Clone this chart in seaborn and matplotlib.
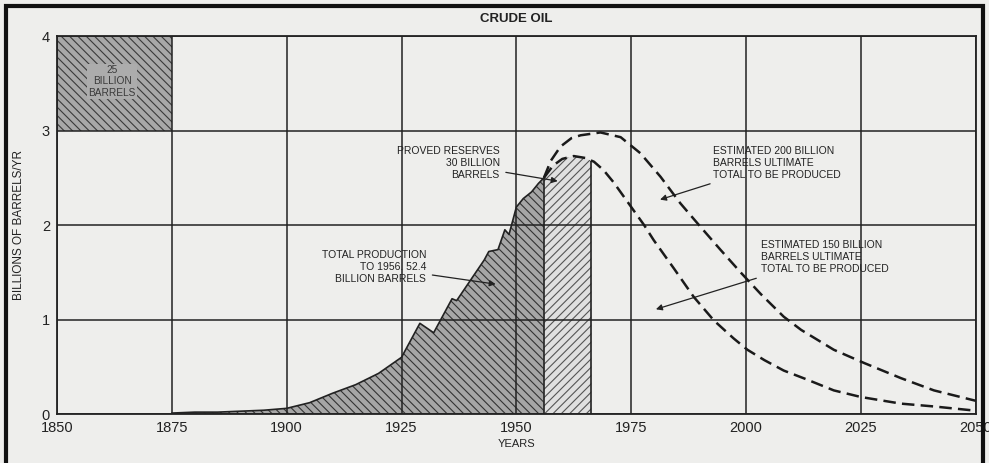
import numpy as np
import pandas as pd
import seaborn as sns
import matplotlib.pyplot as plt
from matplotlib.patches import Rectangle

# production to 1956 (billions of barrels / yr)
prod_years = [1875, 1880, 1885, 1890, 1895, 1900, 1905, 1910, 1915, 1920, 1925,
              1929, 1932, 1936, 1937, 1943, 1944, 1946, 1947.5, 1948.4, 1950,
              1951.5, 1953.3, 1954.8, 1956]
prod_vals = [0.01, 0.02, 0.02, 0.03, 0.04, 0.06, 0.12, 0.22, 0.31, 0.43, 0.60,
             0.96, 0.86, 1.22, 1.20, 1.63, 1.72, 1.74, 1.95, 1.90, 2.19,
             2.28, 2.35, 2.44, 2.50]

# proved reserves block
res_years = [1956, 1958, 1960, 1962.5, 1965, 1966.3]
res_vals = [2.50, 2.63, 2.70, 2.73, 2.71, 2.68]

# estimated future curves
est150_years = [1956, 1958, 1960, 1962.5, 1965, 1966.9, 1969, 1971.2, 1975.6,
                1977.8, 1979.9, 1984.3, 1988.6, 1993, 1997.3, 2000.3, 2004,
                2008.2, 2013, 2019.1, 2025, 2033.7, 2040.9, 2050]
est150_vals = [2.50, 2.63, 2.70, 2.73, 2.71, 2.67, 2.58, 2.45, 2.15,
               2.00, 1.84, 1.54, 1.24, 0.99, 0.80, 0.68, 0.57,
               0.46, 0.37, 0.25, 0.18, 0.11, 0.08, 0.035]
est200_years = [1956, 1957.5, 1959.6, 1962, 1964, 1968.3, 1972.7, 1977, 1981.4,
                1985.7, 1990.1, 1994.4, 1998.8, 2003.2, 2008.2, 2012, 2019.1,
                2025.7, 2033.7, 2040.9, 2050]
est200_vals = [2.50, 2.68, 2.83, 2.92, 2.95, 2.98, 2.93, 2.76, 2.51,
               2.23, 1.98, 1.74, 1.50, 1.27, 1.03, 0.89, 0.68,
               0.54, 0.38, 0.25, 0.14]

x_ticks = [1850, 1875, 1900, 1925, 1950, 1975, 2000, 2025, 2050]
y_ticks = [0, 1, 2, 3, 4]

sns.set_style("white")
plt.rcParams['font.family'] = ['Liberation Sans', 'DejaVu Sans']
plt.rcParams['hatch.linewidth'] = 0.8

bg = '#eeeeec'
fig = plt.figure(figsize=(9.89, 4.63), dpi=100, facecolor=bg)
ax = fig.add_axes([0.0576, 0.1058, 0.929, 0.8163], facecolor=bg)

df150 = pd.DataFrame({"year": est150_years, "val": est150_vals})
df200 = pd.DataFrame({"year": est200_years, "val": est200_vals})

# 25 billion barrels reference block
ax.fill_between([1850, 1875], 3, 4, facecolor='#a8a8a8', edgecolor='#3a3a3a',
                hatch='\\' * 4, linewidth=0, zorder=2)
ax.text(1862, 3.52, "25\nBILLION\nBARRELS", ha='center', va='center',
        fontsize=7.3, color='#3a3a3a', linespacing=1.15, zorder=3,
        bbox=dict(facecolor='#acacac', edgecolor='none', pad=1))

ax.fill_between(prod_years, 0, prod_vals, facecolor='#a6a6a6', edgecolor='#333333',
                hatch='\\' * 4, linewidth=0, zorder=2)
ax.plot(prod_years, prod_vals, color='#222222', lw=1.2, zorder=4)
ax.fill_between(res_years, 0, res_vals, facecolor='#e0e0e0', edgecolor='#555555',
                hatch='/' * 4, linewidth=0, zorder=2)
ax.vlines([1956, 1966.3], 0, [2.50, 2.68], color='#222222', lw=1.2, zorder=4)

sns.lineplot(data=df150, x="year", y="val", ax=ax, color='#1a1a1a', lw=1.8,
             linestyle=(0, (5, 2.5)), zorder=5)
sns.lineplot(data=df200, x="year", y="val", ax=ax, color='#1a1a1a', lw=1.8,
             linestyle=(0, (5, 2.5)), zorder=5)

ax.set_xlim(1850, 2050)
ax.set_ylim(0, 4)
ax.set_xticks(x_ticks)
ax.set_yticks(y_ticks)
ax.grid(True, color='#222222', lw=1.1, zorder=3)
ax.set_axisbelow(False)
for s in ax.spines.values():
    s.set_color('#222222')
    s.set_linewidth(1.3)
ax.tick_params(length=0, labelsize=10.5, colors='#222222', pad=5)
ax.set_xlabel("YEARS", fontsize=8, color='#222222', labelpad=3)
ax.set_ylabel("BILLIONS OF BARRELS/YR", fontsize=8.5, color='#222222', labelpad=12)
ax.set_title("CRUDE OIL", fontsize=9.5, fontweight='bold', color='#222222', pad=10)

arrow = dict(arrowstyle='-|>', color='#222222', lw=0.9, mutation_scale=9)
tkw = dict(fontsize=7.5, color='#222222', linespacing=1.25)
ax.annotate("PROVED RESERVES\n30 BILLION\nBARRELS", xy=(1959.6, 2.46),
            xytext=(1946.4, 2.66), ha='right', va='center', arrowprops=arrow, **tkw)
ax.annotate("TOTAL PRODUCTION\nTO 1956. 52.4\nBILLION BARRELS", xy=(1946.1, 1.37),
            xytext=(1930.4, 1.56), ha='right', va='center', arrowprops=arrow, **tkw)
ax.annotate("ESTIMATED 200 BILLION\nBARRELS ULTIMATE\nTOTAL TO BE PRODUCED",
            xy=(1980.7, 2.26), xytext=(1992.8, 2.66), ha='left', va='center',
            arrowprops=arrow, **tkw)
ax.annotate("ESTIMATED 150 BILLION\nBARRELS ULTIMATE\nTOTAL TO BE PRODUCED",
            xy=(1979.8, 1.10), xytext=(2003.2, 1.66), ha='left', va='center',
            arrowprops=arrow, **tkw)

fig.patches.append(Rectangle((0.006, -0.02), 0.988, 1.008, transform=fig.transFigure,
                             fill=False, edgecolor='#111111', lw=3))

fig.savefig("out.png", dpi=100, facecolor=bg)
